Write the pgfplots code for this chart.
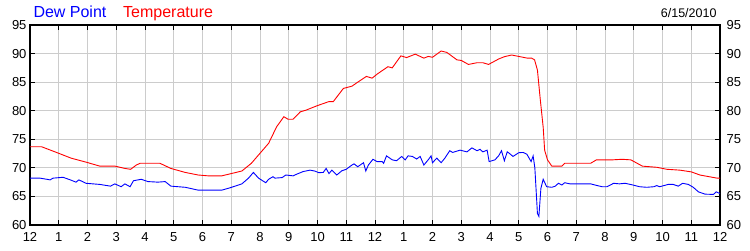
\documentclass[border=0pt]{standalone}
\usepackage{pgfplots}
\pgfplotsset{compat=1.18}
\usepackage{fontspec}
\setmainfont{Liberation Sans}
\definecolor{gridgray}{RGB}{204,204,204}
\begin{document}
\begin{tikzpicture}
\pgfplotsset{
  common/.style={
    scale only axis, width=690pt, height=200pt,
    at={(0pt,0pt)}, anchor=south west,
    xmin=0, xmax=24, ymin=60, ymax=95,
    ytick={60,65,...,95},
    xtick={0,1,...,24},
    tick align=inside,
    major tick length=5pt,
    /pgf/number format/assume math mode=true,
    ticklabel style={font=\fontsize{13}{13}\selectfont},
  }
}
\begin{axis}[common,
  axis line style={line width=1.3pt},
  every tick/.style={black, line width=1pt},
  grid=major,
  major grid style={gridgray, line width=0.9pt},
  xticklabels={12,1,2,3,4,5,6,7,8,9,10,11,12,1,2,3,4,5,6,7,8,9,10,11,12},
  xticklabel style={yshift=-4pt},
  ytick pos=both,
  yticklabel pos=left,
  xtick pos=both,
  xticklabel pos=bottom,
]
\addplot[blue, line width=0.9pt] coordinates {
(0,68.2) (0.35,68.2) (0.7,67.9) (0.8,68.2) (1.15,68.35) (1.4,67.9) (1.6,67.5) (1.7,67.9)
(1.95,67.3) (2.43,67.1) (2.8,66.8) (2.95,67.2) (3.17,66.7) (3.3,67.2) (3.48,66.7) (3.6,67.75)
(3.87,68.0) (4.1,67.6) (4.45,67.5) (4.7,67.6) (4.9,66.8) (5.4,66.6) (5.85,66.1) (6.67,66.1)
(6.95,66.5) (7.37,67.2) (7.6,68.2) (7.77,69.2) (7.95,68.2) (8.2,67.4) (8.3,68.0) (8.45,68.45)
(8.52,68.2) (8.77,68.3) (8.9,68.75) (9.15,68.6) (9.28,68.9) (9.5,69.35) (9.74,69.6) (9.9,69.45)
(10.05,69.15) (10.2,69.2) (10.3,69.9) (10.4,69.0) (10.5,69.6) (10.67,68.75) (10.85,69.5) (11.0,69.75)
(11.2,70.5) (11.27,70.7) (11.4,70.2) (11.6,70.9) (11.68,69.45) (11.77,70.5) (11.93,71.5) (12.07,71.1)
(12.25,71.1) (12.3,70.8) (12.4,72.1) (12.6,71.4) (12.75,71.25) (12.93,72.0) (13.05,71.4) (13.15,72.1)
(13.3,72.0) (13.45,71.55) (13.57,72.0) (13.7,70.5) (13.85,71.4) (13.95,72.1) (14.0,70.9) (14.15,71.7)
(14.3,70.9) (14.43,71.7) (14.6,73.0) (14.7,72.7) (14.96,73.1) (15.2,72.8) (15.37,73.5) (15.55,73.0)
(15.65,73.25) (15.75,72.8) (15.9,73.1) (15.97,71.1) (16.17,71.4) (16.3,72.1) (16.4,73.0) (16.5,71.25)
(16.6,72.8) (16.67,72.55) (16.8,72.0) (17.0,72.65) (17.15,72.7) (17.28,72.4) (17.43,71.1) (17.5,72.1)
(17.56,70.0) (17.65,62.0) (17.7,61.5) (17.77,66.4) (17.85,68.0) (17.97,66.7) (18.15,66.6) (18.27,66.8)
(18.38,67.3) (18.5,67.0) (18.6,67.4) (18.78,67.2) (19.5,67.2) (19.65,67.0) (19.9,66.7) (20.07,66.7)
(20.3,67.3) (20.5,67.2) (20.7,67.3) (20.97,67.0) (21.2,66.7) (21.45,66.6) (21.7,66.7) (21.8,66.9)
(21.9,66.7) (22.2,67.1) (22.37,67.1) (22.55,66.8) (22.7,67.3) (22.9,67.1) (23.07,66.6) (23.25,65.8)
(23.48,65.4) (23.77,65.35) (23.87,65.8) (24,65.5)
};
\addplot[red, line width=0.9pt] coordinates {
(0,73.7) (0.4,73.7) (0.87,72.8) (1.43,71.7) (1.95,71.0) (2.43,70.3) (2.96,70.3) (3.3,69.9)
(3.5,69.75) (3.7,70.5) (3.83,70.8) (4.52,70.8) (4.9,69.9) (5.4,69.2) (5.85,68.75) (6.2,68.6)
(6.67,68.6) (7.0,69.0) (7.37,69.45) (7.7,70.8) (8.0,72.55) (8.3,74.3) (8.58,77.2) (8.83,78.95)
(8.98,78.5) (9.15,78.5) (9.4,79.8) (9.6,80.1) (10.0,80.9) (10.4,81.6) (10.55,81.6) (10.9,83.9)
(11.2,84.3) (11.4,85.0) (11.7,86.0) (11.9,85.7) (12.1,86.5) (12.45,87.7) (12.6,87.5) (12.9,89.6)
(13.1,89.3) (13.4,89.9) (13.7,89.2) (13.85,89.5) (14.0,89.35) (14.3,90.45) (14.5,90.2) (14.85,88.9)
(15.0,88.8) (15.25,88.1) (15.55,88.4) (15.75,88.4) (15.95,88.1) (16.3,89.05) (16.5,89.45) (16.75,89.75)
(17.0,89.5) (17.3,89.2) (17.45,89.2) (17.55,88.9) (17.65,87.1) (17.75,81.9) (17.85,77.1) (17.9,73.1)
(18.0,71.4) (18.15,70.3) (18.5,70.3) (18.6,70.8) (19.5,70.8) (19.7,71.4) (20.25,71.4) (20.6,71.5)
(20.9,71.4) (21.3,70.3) (21.8,70.1) (22.15,69.75) (22.6,69.6) (23.0,69.3) (23.3,68.75) (23.9,68.2)
(24,68.2)
};
\end{axis}
\begin{axis}[common,
  axis x line=none,
  axis y line*=right,
  axis line style={draw=none},
  major tick length=0pt,
  yticklabel style={xshift=3pt},
]
\addplot[draw=none] coordinates {(0,60) (24,95)};
\end{axis}
\node[anchor=base west, text=blue, font=\fontsize{16}{18}\selectfont, inner sep=0pt] at (3.3pt,207.5pt) {Dew Point};
\node[anchor=base west, text=red, font=\fontsize{16}{18}\selectfont, inner sep=0pt] at (93pt,207.5pt) {Temperature};
\node[anchor=base east, text=black, font=\fontsize{12.5}{14}\selectfont, inner sep=0pt] at (686.7pt,207.5pt) {6/15/2010};
\path[use as bounding box] (-30pt,-25pt) rectangle (720pt,225pt);
\end{tikzpicture}
\end{document}
